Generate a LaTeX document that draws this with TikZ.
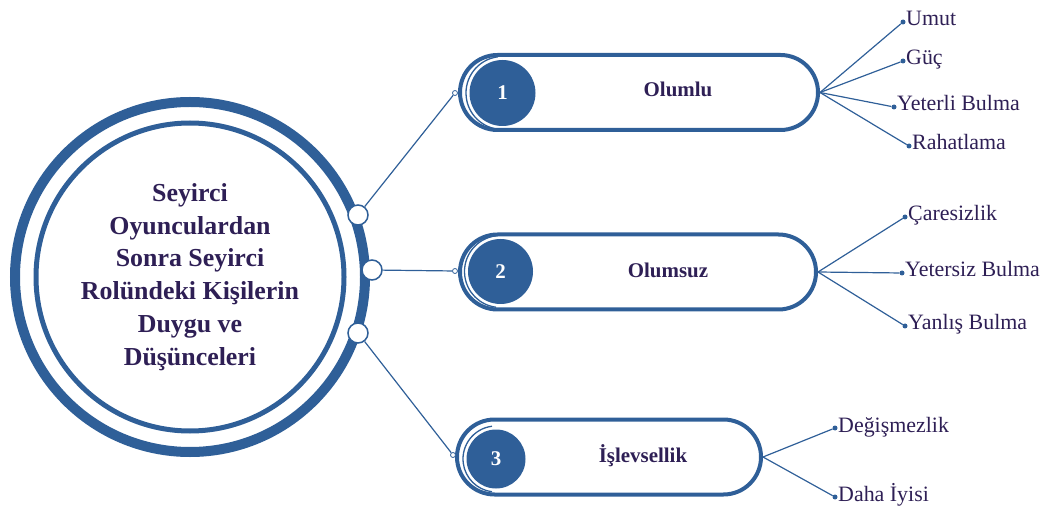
\documentclass[tikz,border=0pt]{standalone}
\usepackage{fontspec}
\setmainfont{Liberation Serif}
\usepackage{tikz}
\definecolor{ringblue}{HTML}{2F5F98}
\definecolor{textpurple}{HTML}{2E1F55}

\begin{document}
\begin{tikzpicture}[x=1bp,y=-1bp,
  link/.style={draw=ringblue,line width=1.2bp},
  pill/.style={draw=ringblue,line width=4bp,rounded corners=37.5bp,minimum height=75bp,inner sep=0pt},
  numdot/.style={circle,fill=ringblue,text=white,inner sep=0pt,font=\bfseries\fontsize{21}{21}\selectfont},
  capline/.style={draw=ringblue,line width=1.3bp},
  ringdot/.style={circle,fill=white,draw=ringblue,line width=1.5bp,minimum size=20bp,inner sep=0pt},
  endmark/.style={circle,fill=white,draw=ringblue,line width=0.8bp,minimum size=5bp,inner sep=0pt},
  leafdot/.style={circle,fill=ringblue,minimum size=5bp,inner sep=0pt},
  leaflabel/.style={text=textpurple,font=\fontsize{22}{22}\selectfont,inner sep=0pt},
  pilltext/.style={text=textpurple,font=\bfseries\fontsize{21}{21}\selectfont,inner sep=0pt}]
\useasboundingbox (0,0) rectangle (1051,508);

\node[circle,draw=ringblue,line width=10bp,minimum size=350bp,align=center,text=textpurple,
  font=\bfseries\fontsize{26}{33}\selectfont] (core) at (190,277)
  {Seyirci\\Oyunculardan\\Sonra Seyirci\\Rolündeki Kişilerin\\Duygu ve\\Düşünceleri};
\draw[ringblue,line width=5bp] (core.center) circle (154);

\node[ringdot] (r1) at (358,215) {};
\node[ringdot] (r2) at (372,270) {};
\node[ringdot] (r3) at (358,333) {};

\node[pill,minimum width=358bp] (p1) at (639,92.5) {};
\node[pill,minimum width=356bp] (p2) at (638,272) {};
\node[pill,minimum width=304bp] (p3) at (609,457) {};

\node[numdot,minimum size=66bp] (n1) at (502.5,93) {1};
\node[numdot,minimum size=65bp] (n2) at (500.5,271.5) {2};
\node[numdot,minimum size=59bp] (n3) at (496,459) {3};
\foreach \n/\r in {n1/36.5bp, n2/36bp, n3/33bp}
  \draw[capline] (\n.center) ++(97:\r) arc[start angle=97,end angle=263,radius=\r];

\node[pilltext,anchor=base] (t1) at (678,97) {Olumlu};
\node[pilltext,anchor=base] (t2) at (668,278) {Olumsuz};
\node[pilltext,anchor=base] (t3) at (643,462) {İşlevsellik};

\node[endmark] (m1) at (455,93) {};
\node[endmark] (m2) at (455,271) {};
\node[endmark] (m3) at (453,455) {};
\draw[link] (r1) -- (m1);
\draw[link] (r2) -- (m2);
\draw[link] (r3) -- (m3);

\foreach \n/\x/\y/\t/\s in {a1/903/22/Umut/p1, a2/903/61/Güç/p1, a3/894/107/Yeterli Bulma/p1,
    a4/909/146/Rahatlama/p1, b1/905/217/Çaresizlik/p2, b2/902/273/Yetersiz Bulma/p2,
    b3/905/326/Yanlış Bulma/p2, c1/835/428/Değişmezlik/p3, c2/835/497/Daha İyisi/p3}{
  \node[leafdot] (\n) at (\x,\y) {};
  \node[leaflabel,anchor=base west] (\n-l) at (\x+3,\y+4) {\t};
  \draw[link] (\s.east) -- (\n);
}
\end{tikzpicture}
\end{document}
